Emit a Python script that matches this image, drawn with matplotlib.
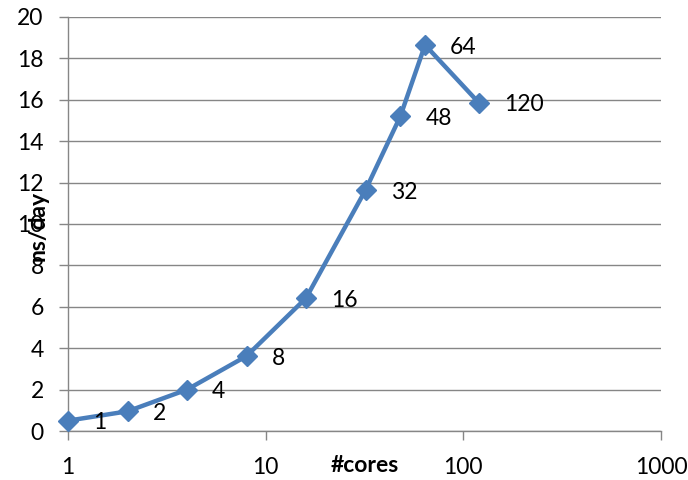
import matplotlib
matplotlib.use("Agg")
import matplotlib.pyplot as plt
from matplotlib.ticker import FixedLocator, FixedFormatter, NullLocator

cores = [1, 2, 4, 8, 16, 32, 48, 64, 120]
ns_per_day = [0.5, 0.95, 2.0, 3.62, 6.42, 11.64, 15.2, 18.65, 15.85]
point_labels = ["1", "2", "4", "8", "16", "32", "48", "64", "120"]
x_ticks = [1, 10, 100, 1000]
x_tick_labels = ["1", "10", "100", "1000"]
y_ticks = list(range(0, 21, 2))

plt.rcParams["font.family"] = ["Lato", "DejaVu Sans"]

fig = plt.figure(figsize=(6.88, 4.8), dpi=100)
ax = fig.add_axes([68 / 688, 1 - 431 / 480, (661 - 68) / 688, (431 - 17) / 480])

line_color = "#4A7EBB"
grid_color = "#868686"
fs = 16.5

ax.plot(cores, ns_per_day, color=line_color, linewidth=3.2, marker="D",
        markersize=10, markerfacecolor=line_color, markeredgecolor=line_color,
        zorder=3, clip_on=False)

for x, y, lab in zip(cores, ns_per_day, point_labels):
    ax.annotate(lab, (x, y), xytext=(18, -1.5), textcoords="offset points",
                ha="left", va="center", fontsize=fs, color="black")

ax.set_xscale("log")
ax.set_xlim(1, 1000)
ax.set_ylim(0, 20)
ax.xaxis.set_major_locator(FixedLocator(x_ticks))
ax.xaxis.set_major_formatter(FixedFormatter(x_tick_labels))
ax.xaxis.set_minor_locator(NullLocator())
ax.set_yticks(y_ticks)

ax.grid(axis="y", color=grid_color, linewidth=1.0)
ax.set_axisbelow(True)
for side in ["top", "right"]:
    ax.spines[side].set_visible(False)
for side in ["left", "bottom"]:
    ax.spines[side].set_color(grid_color)
    ax.spines[side].set_linewidth(1.0)

ax.tick_params(axis="both", which="major", direction="out", length=6.5,
               width=1.0, color=grid_color, labelsize=fs, labelcolor="black")
ax.tick_params(axis="x", pad=12)
ax.tick_params(axis="y", pad=11)

fig.text(365 / 688, 1 - 466 / 480, "#cores", ha="center", va="center",
         fontsize=fs, fontweight="bold")
fig.text(38 / 688, 1 - 226 / 480, "ns/day", ha="center", va="center",
         rotation=90, fontsize=fs, fontweight="bold")

fig.savefig("out.png", dpi=100)
